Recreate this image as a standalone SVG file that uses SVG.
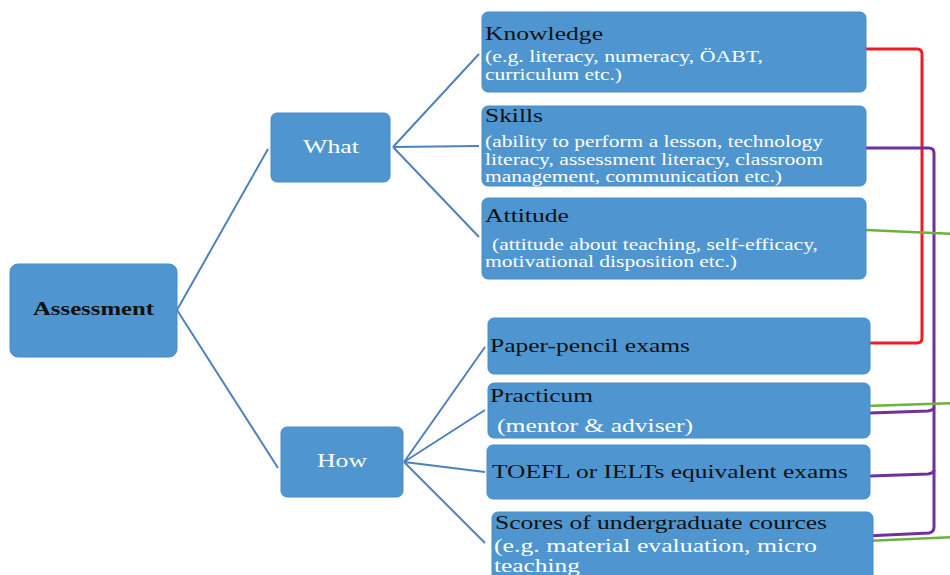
<svg xmlns="http://www.w3.org/2000/svg" width="950" height="575" viewBox="0 0 950 575">
<style>
.box{fill:#4f96d0;stroke:#4a8cc6;stroke-width:1}
.t{font-family:"Liberation Serif","Times New Roman",serif;fill:#111}
.w{font-family:"Liberation Serif","Times New Roman",serif;fill:#fff}
.ln{fill:none;stroke:#4f82bd;stroke-width:2}
.red{fill:none;stroke:#ee1c25;stroke-width:3}
.pur{fill:none;stroke:#7030a0;stroke-width:3}
.grn{fill:none;stroke:#6cb23f;stroke-width:2.5}
</style>
<rect width="950" height="575" fill="#fff"/>
<g id="connectors">
<path class="ln" d="M177,310 L268,149 M177,310 L278,468"/>
<path class="ln" d="M393,147 L479,54 M393,147 L479,146 M393,147 L479,237"/>
<path class="ln" d="M404,462 L485,347 M404,462 L485,410 M404,462 L485,472 M404,462 L485,543"/>
<path class="red" d="M866,49 L917,49 Q922,49 922,54 L922,338 Q922,343 917,343 L870,343"/>
<path class="pur" d="M866,148 L929,148 Q934,148 934,153 L934,527 Q934,532 929,533 L866,536"/>
<path class="pur" d="M870,413 L928,411 Q934,410 934,407"/>
<path class="pur" d="M870,476 L928,474 Q934,473 934,470"/>
<path class="grn" d="M866,230 L955,234"/>
<path class="grn" d="M866,406 L955,403"/>
<path class="grn" d="M866,541 L955,537"/>
</g>
<g id="assessment">
<rect class="box" x="10" y="264" width="167" height="93" rx="8"/>
<text class="t" x="33" y="315" font-size="19" font-weight="bold" textLength="121" lengthAdjust="spacingAndGlyphs">Assessment</text>
</g>
<g id="what">
<rect class="box" x="271" y="113" width="119" height="69" rx="6"/>
<text class="w" x="303" y="153" font-size="19" textLength="56" lengthAdjust="spacingAndGlyphs">What</text>
</g>
<g id="how">
<rect class="box" x="281" y="427" width="122" height="70" rx="6"/>
<text class="w" x="317" y="467" font-size="19" textLength="50" lengthAdjust="spacingAndGlyphs">How</text>
</g>
<g id="knowledge">
<rect class="box" x="482" y="12" width="384" height="80" rx="6"/>
<text class="t" x="485" y="40" font-size="18" textLength="118" lengthAdjust="spacingAndGlyphs">Knowledge</text>
<text class="w" x="485" y="62" font-size="17" textLength="278" lengthAdjust="spacingAndGlyphs">(e.g. literacy, numeracy, ÖABT,</text>
<text class="w" x="485" y="80" font-size="17" textLength="137" lengthAdjust="spacingAndGlyphs">curriculum etc.)</text>
</g>
<g id="skills">
<rect class="box" x="482" y="106" width="384" height="80" rx="6"/>
<text class="t" x="485" y="122" font-size="18" textLength="58" lengthAdjust="spacingAndGlyphs">Skills</text>
<text class="w" x="485" y="147" font-size="16" textLength="338" lengthAdjust="spacingAndGlyphs">(ability to perform a lesson, technology</text>
<text class="w" x="485" y="165" font-size="16" textLength="338" lengthAdjust="spacingAndGlyphs">literacy, assessment literacy, classroom</text>
<text class="w" x="485" y="182" font-size="16" textLength="297" lengthAdjust="spacingAndGlyphs">management, communication etc.)</text>
</g>
<g id="attitude">
<rect class="box" x="482" y="198" width="384" height="81" rx="6"/>
<text class="t" x="485" y="222" font-size="18" textLength="84" lengthAdjust="spacingAndGlyphs">Attitude</text>
<text class="w" x="492" y="250" font-size="16" textLength="326" lengthAdjust="spacingAndGlyphs">(attitude about teaching, self-efficacy,</text>
<text class="w" x="485" y="267" font-size="16" textLength="252" lengthAdjust="spacingAndGlyphs">motivational disposition etc.)</text>
</g>
<g id="paper-pencil">
<rect class="box" x="488" y="318" width="382" height="56" rx="6"/>
<text class="t" x="490" y="352" font-size="19" textLength="200" lengthAdjust="spacingAndGlyphs">Paper-pencil exams</text>
</g>
<g id="practicum">
<rect class="box" x="488" y="383" width="382" height="55" rx="6"/>
<text class="t" x="490" y="402" font-size="19" textLength="103" lengthAdjust="spacingAndGlyphs">Practicum</text>
<text class="w" x="497" y="432" font-size="19" textLength="196" lengthAdjust="spacingAndGlyphs">(mentor &amp; adviser)</text>
</g>
<g id="toefl">
<rect class="box" x="487" y="445" width="383" height="54" rx="6"/>
<text class="t" x="492" y="478" font-size="19" textLength="356" lengthAdjust="spacingAndGlyphs">TOEFL or IELTs equivalent exams</text>
</g>
<g id="scores">
<rect class="box" x="492" y="512" width="381" height="80" rx="6"/>
<text class="t" x="495" y="529" font-size="19" textLength="332" lengthAdjust="spacingAndGlyphs">Scores of undergraduate cources</text>
<text class="w" x="494" y="552" font-size="19" textLength="323" lengthAdjust="spacingAndGlyphs">(e.g. material evaluation, micro</text>
<text class="w" x="494" y="572" font-size="19" textLength="86" lengthAdjust="spacingAndGlyphs">teaching</text>
</g>
</svg>
